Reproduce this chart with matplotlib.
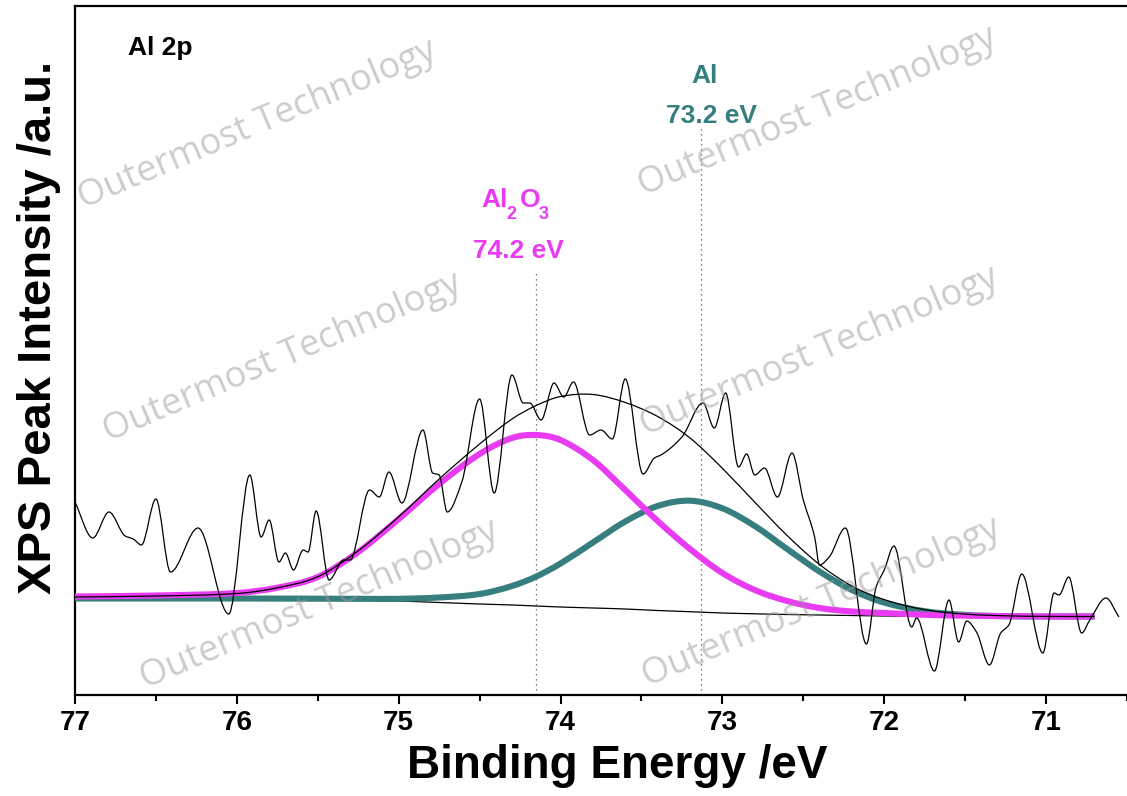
import numpy as np
import matplotlib
matplotlib.use("Agg")
import matplotlib.pyplot as plt
from matplotlib.path import Path
from matplotlib.patches import PathPatch

# raw Al 2p spectrum (binding energy / eV, counts a.u.)
raw_be = [77.00, 76.89, 76.79, 76.69, 76.64, 76.59, 76.50, 76.41, 76.24, 76.05,
          75.92, 75.85, 75.80, 75.74, 75.70, 75.65, 75.59, 75.56, 75.51, 75.43,
          75.34, 75.30, 75.18, 75.12, 75.06, 74.98, 74.85, 74.79, 74.75, 74.70,
          74.61, 74.50, 74.41, 74.30, 74.23, 74.19, 74.12, 74.04, 73.98, 73.92,
          73.82, 73.75, 73.68, 73.60, 73.49, 73.42, 73.38, 73.25, 73.12, 73.05,
          72.98, 72.90, 72.85, 72.80, 72.74, 72.66, 72.57, 72.50, 72.43, 72.40,
          72.34, 72.24, 72.11, 72.05, 72.00, 71.94, 71.83, 71.80, 71.69, 71.60,
          71.54, 71.49, 71.43, 71.35, 71.28, 71.23, 71.15, 71.02, 70.95, 70.92,
          70.86, 70.78, 70.73, 70.63, 70.55]
raw_counts = [193, 157, 183, 159, 156, 150, 196, 123, 167, 81,
              220, 158, 175, 133, 142, 125, 145, 143, 184, 115,
              135, 135, 205, 198, 223, 192, 265, 222, 220, 183,
              213, 296, 202, 320, 292, 292, 275, 312, 298, 313,
              260, 265, 256, 316, 221, 237, 240, 258, 292, 267,
              302, 228, 241, 220, 227, 198, 242, 195, 158, 130,
              138, 167, 51, 108, 125, 149, 68, 77, 24, 95,
              53, 74, 63, 30, 62, 70, 121, 42, 102, 100,
              118, 62, 75, 97, 78]

# fitted components on a common energy grid
fit_be = [77.0, 76.5, 76.0, 75.75, 75.5, 75.25, 75.0, 74.75, 74.5, 74.3,
          74.15, 74.0, 73.8, 73.6, 73.4, 73.2, 73.0, 72.8, 72.6, 72.4,
          72.2, 72.0, 71.75, 71.5, 71.25, 71.0, 70.7]
background = [97, 97, 97, 96.5, 96, 95, 94, 92.5, 91, 90,
              89, 88, 87, 86, 84.5, 83.3, 82, 81.2, 80.5, 80,
              79.5, 79, 78.7, 78.5, 78.5, 78.5, 78.5]
al2o3 = [98.5, 99.5, 102, 107.3, 118, 143, 176, 211, 241, 257,
         260, 255, 235, 205, 174, 146, 122, 105, 94, 87,
         83.5, 82, 80.2, 79.3, 78.9, 78.6, 78.5]
al_metal = [96.5, 96.5, 96.5, 96.4, 96.3, 96.2, 96.2, 97.5, 101, 109,
            118.5, 131.5, 152.5, 173.5, 189, 194.3, 186.7, 169, 146, 123.5,
            105, 92.4, 83.8, 80.1, 78.8, 78.5, 78.5]
envelope = list(np.array(al2o3) + np.array(al_metal) - np.array(background))

peak_labels = ["74.2 eV", "73.2 eV"]
peak_lines = [74.15, 73.13]
line_tops = [425, 567]

pink = "#E93CF2"
teal = "#377E7E"

plt.rcParams["font.family"] = ["Liberation Sans", "DejaVu Sans"]


def bezier_path(x, y, monotone=True):
    """cubic bezier path through the points (zero slope at extrema if monotone)"""
    x = np.asarray(x, float)
    y = np.asarray(y, float)
    h = np.diff(x)
    d = np.diff(y) / h
    m = np.zeros_like(y)
    m[0], m[-1] = d[0], d[-1]
    for k in range(1, len(x) - 1):
        if not monotone:
            m[k] = (y[k + 1] - y[k - 1]) / (x[k + 1] - x[k - 1])
        elif d[k - 1] * d[k] > 0:
            w1 = 2 * h[k] + h[k - 1]
            w2 = h[k] + 2 * h[k - 1]
            m[k] = (w1 + w2) / (w1 / d[k - 1] + w2 / d[k])
    verts = [(x[0], y[0])]
    for k in range(len(x) - 1):
        verts += [(x[k] + h[k] / 3, y[k] + m[k] * h[k] / 3),
                  (x[k + 1] - h[k] / 3, y[k + 1] - m[k + 1] * h[k] / 3),
                  (x[k + 1], y[k + 1])]
    codes = [Path.MOVETO] + [Path.CURVE4] * (3 * (len(x) - 1))
    return Path(verts, codes)


fig = plt.figure(figsize=(11.27, 7.96), dpi=100)
ax = fig.add_axes([75 / 1127, 101 / 796, 1052 / 1127, 689 / 796])

ax.add_patch(PathPatch(bezier_path(fit_be, background, False), fc="none", ec="black",
                       lw=0.9, zorder=2))
ax.add_patch(PathPatch(bezier_path(fit_be, al_metal, False), fc="none", ec=teal, lw=4.4,
                       capstyle="butt", zorder=3))
ax.add_patch(PathPatch(bezier_path(fit_be, al2o3, False), fc="none", ec=pink, lw=4.4,
                       capstyle="butt", zorder=4))
ax.add_patch(PathPatch(bezier_path(fit_be, envelope, False), fc="none", ec="black",
                       lw=0.9, zorder=5))
ax.add_patch(PathPatch(bezier_path(raw_be, raw_counts), fc="none", ec="black",
                       lw=0.9, zorder=6))

for c, top in zip(peak_lines, line_tops):
    ax.plot([c, c], [0, top], ls=(0, (1, 3)), color="#555555", lw=0.9, zorder=1)

# Al2O3 label built from pieces so the subscripts sit low like the original
for txt, dx, dy, size in [("Al", -39.8, 0, 19), ("2", -21.3, -8.8, 13),
                          ("O", -11.9, 0, 19), ("3", 1.5, -8.8, 13)]:
    ax.annotate(txt, xy=(peak_lines[0], 488), xytext=(dx, dy), textcoords="offset points",
                color=pink, fontsize=size, fontweight="bold", ha="left", va="baseline")
ax.text(74.26, 437, peak_labels[0], color=pink, fontsize=19, fontweight="bold",
        ha="center", va="baseline")
ax.text(73.11, 612, "Al", color=teal, fontsize=19, fontweight="bold",
        ha="center", va="baseline")
ax.text(73.07, 572, peak_labels[1], color=teal, fontsize=19, fontweight="bold",
        ha="center", va="baseline")
ax.text(0.0504, 0.929, "Al 2p", transform=ax.transAxes, fontsize=19,
        fontweight="bold", va="baseline")

ax.set_xlim(77, 70.55)
ax.set_ylim(0, 689)
ax.set_xticks([77, 76, 75, 74, 73, 72, 71])
ax.set_xticks(np.arange(70.5, 77.01, 0.5), minor=True)
ax.set_yticks([])
ax.tick_params(axis="x", which="major", direction="out", length=6.5, width=1.5, pad=4)
ax.tick_params(axis="x", which="minor", direction="out", length=4, width=1.5)
for lab in ax.get_xticklabels():
    lab.set_fontweight("bold")
    lab.set_fontsize(20)
for s in ["left", "bottom", "top"]:
    ax.spines[s].set_linewidth(1.6)
ax.spines["right"].set_visible(False)

ax.set_xlabel("Binding Energy /eV", fontsize=33, fontweight="bold")
ax.xaxis.set_label_coords(0.515, -0.071)
ax.set_ylabel("XPS Peak Intensity /a.u.", fontsize=34, fontweight="bold")
ax.yaxis.set_label_coords(-0.013, 0.533)

# watermark
for cx, cy in [(258, 125), (818, 112), (283, 358), (820, 352), (320, 605), (822, 603)]:
    fig.text(cx / 1127, 1 - cy / 796, "Outermost Technology", fontsize=26,
             family="Open Sans", color="#9a9a9a", alpha=0.5, rotation=23,
             ha="center", va="center", rotation_mode="anchor", zorder=10)

fig.savefig("out.png", dpi=100)
